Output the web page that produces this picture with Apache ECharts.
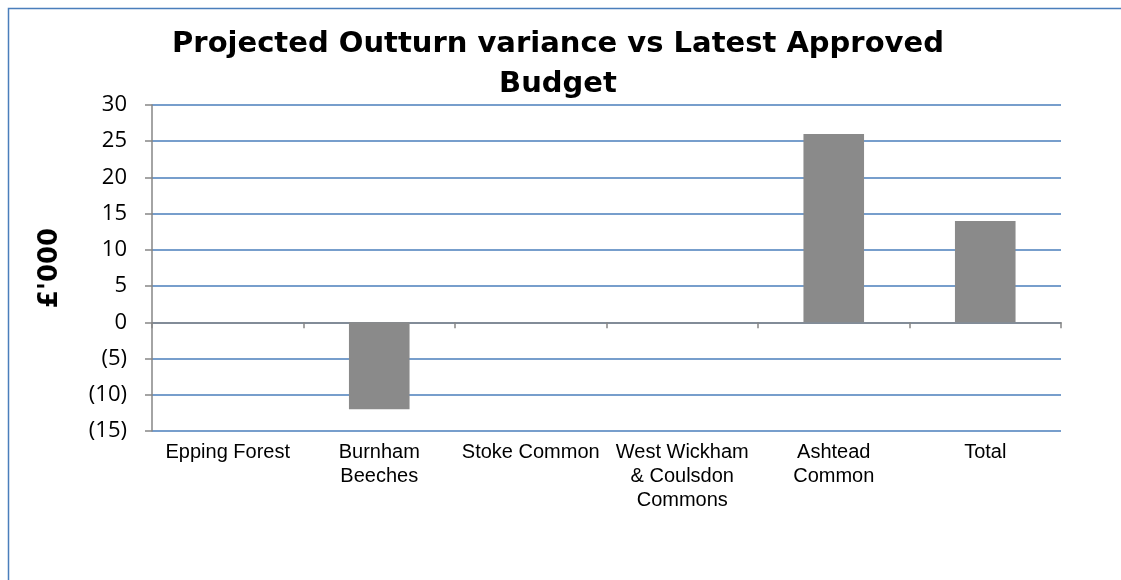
<!DOCTYPE html>
<html>
<head>
<meta charset="utf-8">
<script src="https://cdn.jsdelivr.net/npm/echarts@6/dist/echarts.min.js"></script>
<style>
  html, body { margin: 0; padding: 0; background: #fff; }
  #main { width: 1121px; height: 580px; }
</style>
</head>
<body>
<div id="main"></div>
<script>
// categories and values (£'000)
var sites = ['Epping Forest', 'Burnham\nBeeches', 'Stoke Common', 'West Wickham\n& Coulsdon\nCommons', 'Ashtead\nCommon', 'Total'];
var variance = [0, -12, 0, 0, 26, 14];
var yTicks = { min: -15, max: 30, step: 5 };

var myChart = echarts.init(document.getElementById('main'));

var option = {
    animation: false,
    title: {
        text: 'Projected Outturn variance vs Latest Approved\nBudget',
        left: 553, top: 19, textAlign: 'center',
        textStyle: { fontFamily: 'DejaVu Sans', fontSize: 29, fontWeight: 'bold', color: '#000', lineHeight: 40 }
    },
    graphic: [{
        type: 'rect', silent: true,
        shape: { x: 8.5, y: 8.5, width: 1300, height: 700 },
        style: { fill: 'none', stroke: '#4A7EBB', lineWidth: 1.5 }
    }],
    grid: { left: 152, right: 60, top: 105, bottom: 149 },
    xAxis: [
        {   // labels along the bottom
            type: 'category', data: sites, position: 'bottom',
            axisLine: { show: false, onZero: false },
            axisTick: { show: false },
            axisLabel: { margin: 9, color: '#000', fontFamily: 'Liberation Sans', fontSize: 20, lineHeight: 24, interval: 0 }
        },
        {   // the zero line with its ticks
            type: 'category', data: sites, position: 'bottom',
            axisLine: { show: true, onZero: true, lineStyle: { color: '#868686', width: 1.5 } },
            axisTick: { show: true, length: 6, lineStyle: { color: '#868686', width: 1.5 } },
            axisLabel: { show: false }
        }
    ],
    yAxis: {
        type: 'value', min: yTicks.min, max: yTicks.max, interval: yTicks.step,
        name: "£'000", nameLocation: 'middle', nameGap: 89, nameRotate: 90,
        nameTextStyle: { fontFamily: 'DejaVu Sans', fontSize: 26, fontWeight: 'bold', color: '#000' },
        axisLine: { show: true, lineStyle: { color: '#868686', width: 1.5 } },
        axisTick: { show: true, length: 7, lineStyle: { color: '#868686', width: 1.5 } },
        axisLabel: {
            margin: 25, color: '#000', fontFamily: 'Open Sans', fontSize: 22,
            formatter: function (v) { return v < 0 ? '(' + (-v) + ')' : String(v); }
        },
        splitLine: { show: true, lineStyle: { color: '#4A7EBB', width: 1.5 } }
    },
    series: [{
        type: 'bar', data: variance, xAxisIndex: 0, barWidth: '40%',
        itemStyle: { color: '#8A8A8A' }
    }]
};
myChart.setOption(option);
window.addEventListener("resize", function() { myChart.resize(); });
</script>
</body>
</html>
